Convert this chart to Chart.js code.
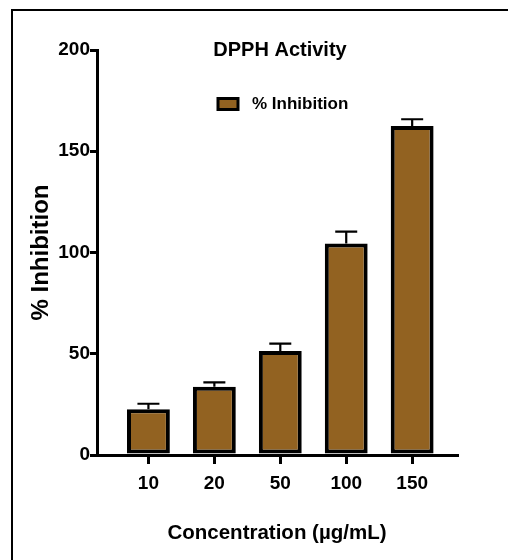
<!DOCTYPE html>
<html>
<head>
<meta charset="utf-8">
<script src="https://cdn.jsdelivr.net/npm/chart.js@4"></script>
<style>
html,body{margin:0;padding:0;background:#fff;}
#wrap{position:relative;width:508px;height:560px;overflow:hidden;}
#frame{position:absolute;left:11px;top:9px;width:520px;height:580px;border-top:2px solid #000;border-left:2px solid #000;pointer-events:none;}
canvas{position:absolute;left:0;top:0;}
</style>
</head>
<body>
<div id="wrap">
<canvas id="c" width="508" height="560"></canvas>
<div id="frame"></div>
</div>
<script>
const categories = ['10', '20', '50', '100', '150'];
const inhibition = [22.6, 33.7, 51.3, 104.5, 162.5];
const errorsUp = [2.7, 2.2, 3.7, 5.8, 3.3];
const yTicks = [0, 50, 100, 150, 200];

const FONT = "'Liberation Sans',Arial,sans-serif";
const BAR_COLOR = '#926221';

const errorBars = {
  id: 'errorBars',
  afterDatasetsDraw(chart) {
    const ctx = chart.ctx;
    const meta = chart.getDatasetMeta(0);
    const ys = chart.scales.y;
    ctx.save();
    ctx.strokeStyle = '#000';
    ctx.lineWidth = 2.2;
    meta.data.forEach((bar, i) => {
      const top = ys.getPixelForValue(inhibition[i] + errorsUp[i]);
      const base = ys.getPixelForValue(inhibition[i]);
      ctx.beginPath();
      ctx.moveTo(bar.x, base);
      ctx.lineTo(bar.x, top);
      ctx.moveTo(bar.x - 11, top);
      ctx.lineTo(bar.x + 11, top);
      ctx.stroke();
    });
    ctx.restore();
  }
};

const titleLegend = {
  id: 'titleLegend',
  afterDraw(chart) {
    const ctx = chart.ctx;
    ctx.save();
    ctx.fillStyle = '#000';
    ctx.textBaseline = 'middle';
    ctx.textAlign = 'center';
    ctx.font = "bold 20px " + FONT;
    ctx.fillText('DPPH Activity', 280, 50);
    ctx.fillStyle = BAR_COLOR;
    ctx.fillRect(218, 98.5, 20, 11);
    ctx.strokeStyle = '#000';
    ctx.lineWidth = 3;
    ctx.strokeRect(218, 98.5, 20, 11);
    ctx.fillStyle = '#000';
    ctx.textAlign = 'left';
    ctx.font = "bold 17px " + FONT;
    ctx.fillText('% Inhibition', 252, 104);
    ctx.restore();
  }
};

new Chart(document.getElementById('c'), {
  type: 'bar',
  data: {
    datasets: [{
      label: '% Inhibition',
      data: inhibition.map((v, i) => ({ x: i, y: v })),
      backgroundColor: BAR_COLOR,
      borderColor: '#000',
      borderWidth: 4,
      borderSkipped: false,
      barPercentage: 0.65,
      categoryPercentage: 1
    }]
  },
  options: {
    responsive: false,
    animation: false,
    layout: { padding: { left: 18, top: 50, right: 51, bottom: 0 } },
    plugins: { legend: { display: false }, title: { display: false }, tooltip: { enabled: false } },
    scales: {
      x: {
        type: 'linear',
        offset: false,
        min: -0.78,
        max: 4.68,
        afterBuildTicks(scale) { scale.ticks = categories.map((_, i) => ({ value: i })); },
        afterFit(scale) { scale.height = 105; },
        ticks: {
          autoSkip: false,
          color: '#000',
          font: { family: FONT, size: 19, weight: 'bold' },
          padding: 8,
          maxRotation: 0,
          callback: (v) => categories[v]
        },
        grid: { display: true, offset: false, drawOnChartArea: false, drawTicks: true, tickLength: 9, lineWidth: 3, color: '#000' },
        border: { display: true, width: 3, color: '#000' },
        title: {
          display: true,
          text: 'Concentration (µg/mL)',
          color: '#000',
          font: { family: FONT, size: 20.5, weight: 'bold' },
          padding: { top: 0, bottom: 14 }
        }
      },
      y: {
        min: 0,
        max: 200,
        afterBuildTicks(scale) { scale.ticks = yTicks.map(v => ({ value: v })); },
        afterFit(scale) { scale.width = 79; },
        ticks: {
          color: '#000',
          font: { family: FONT, size: 19, weight: 'bold' },
          padding: 0
        },
        grid: { display: true, drawOnChartArea: false, drawTicks: true, tickLength: 7, lineWidth: 3, color: '#000' },
        border: { display: true, width: 3, color: '#000' },
        title: {
          display: true,
          text: '% Inhibition',
          color: '#000',
          font: { family: FONT, size: 24, weight: 'bold' },
          padding: { top: 9, bottom: 0 }
        }
      }
    }
  },
  plugins: [errorBars, titleLegend]
});
</script>
</body>
</html>
